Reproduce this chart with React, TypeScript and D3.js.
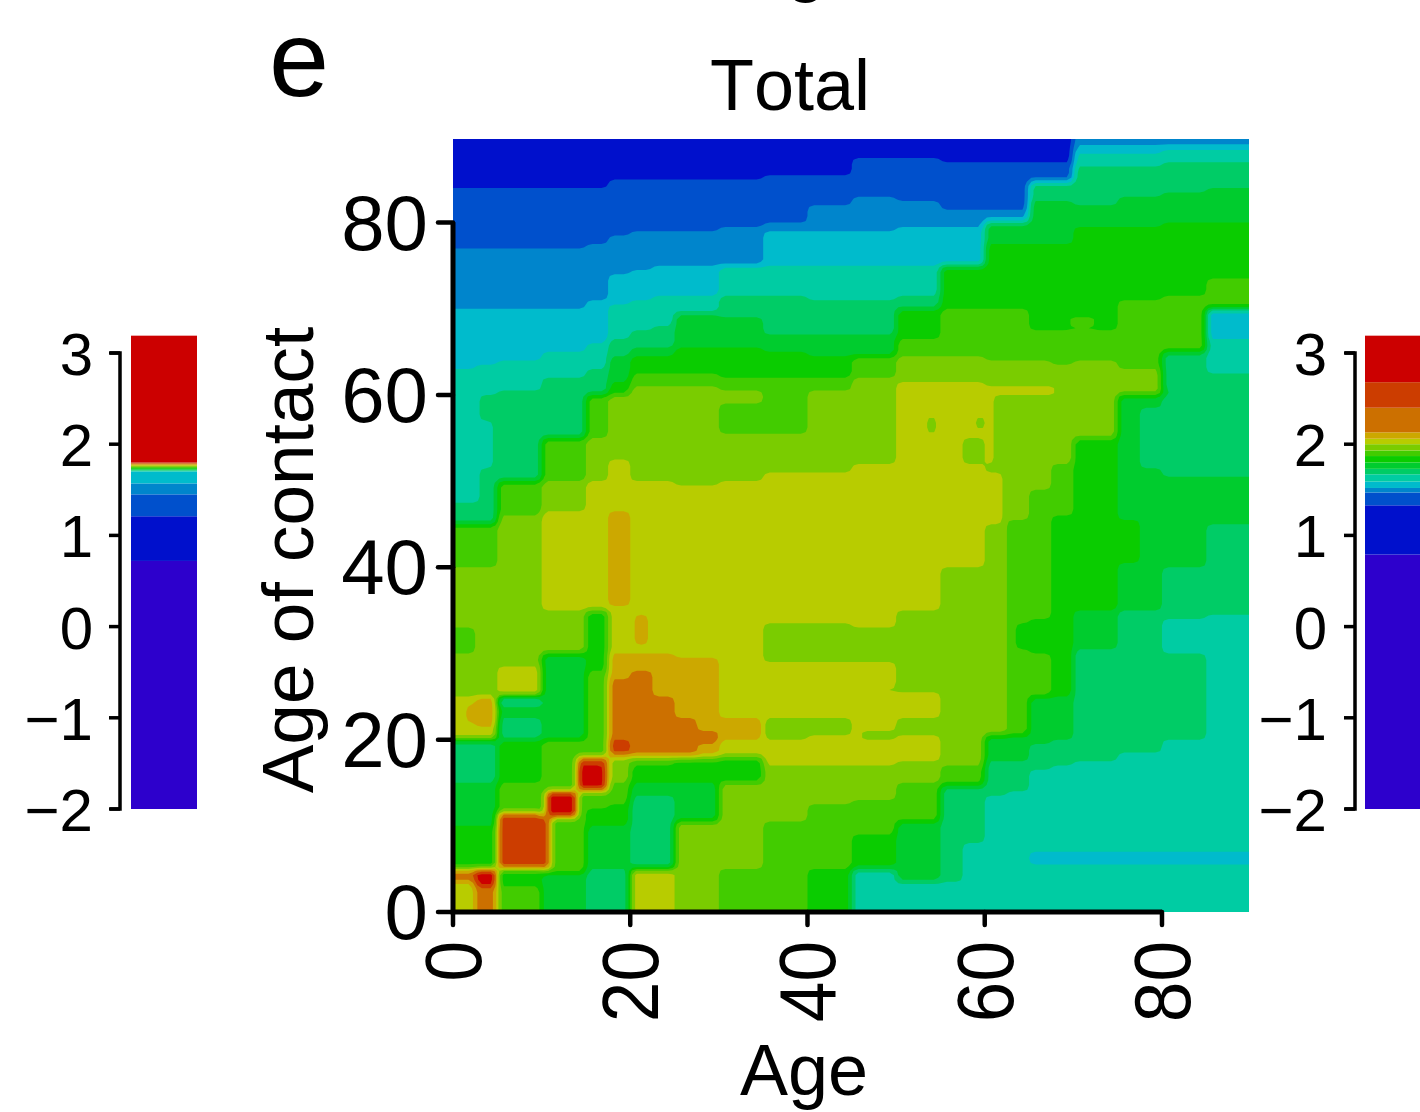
import React, { useMemo } from "react";
import * as d3 from "d3";

// Colour levels of the filled contour plot, lowest to highest
const levelColors = ["#2d00cc","#0010cc","#0050cc","#0085cc","#00bbcc","#00cca3","#00cc66","#00cc2e","#0acc00","#42cc00","#7acc00","#b8cc00","#cca800","#cc7000","#cc3d00","#cc0000"];

// Upper value of each colour band in the two colour keys
const leftKeyUpper = [0.72,1.21,1.45,1.57,1.70,1.71,1.72,1.73,1.74,1.75,1.76,1.77,1.78,1.79,1.80,3.19];
const rightKeyUpper = [0.79,1.33,1.47,1.52,1.59,1.67,1.73,1.80,1.87,1.93,2.0,2.06,2.13,2.40,2.68,3.19];
const keyTicks = [-2,-1,0,1,2,3];
const plotTicks = [0,20,40,60,80];

type Run = [number, number]; // [level, lower age of contact], listed from old contacts down to young
type Column = { from: number; to: number; runs: Run[] };

const age0: Run[] = [[1,84.2],[2,77],[3,70.2],[4,63],[5,47.6],[6,45],[9,40.1],[10,33.1],[9,30.1],[10,25.2],[11,20.2],[6,15.1],[7,10.1],[8,5.1],[13,3.3],[11,0]];
const age3: Run[] = [[1,84.2],[2,77],[3,70.2],[4,63.7],[5,60.2],[6,45],[9,40.1],[10,25.1],[12,21.5],[11,20.2],[6,15.1],[7,10.1],[8,5.2],[15,2.8],[13,0]];
const age5: Run[] = [[1,84.2],[2,77],[3,70.2],[4,64.2],[5,60.5],[6,50],[9,45.9],[10,28.5],[11,25.1],[5,24.1],[7,22.3],[6,20.2],[8,14.8],[9,11.3],[14,4.9],[8,3.1],[9,0]];
const age10: Run[] = [[1,84.2],[2,77],[3,70.2],[4,64.8],[5,61.9],[6,55.1],[9,50.2],[10,46.4],[11,35.1],[10,30],[7,20],[9,4.5],[7,0]];
const age15: Run[] = [[1,84.2],[2,77.3],[3,71.2],[4,65.9],[5,62.8],[6,59.9],[9,54.9],[10,50.2],[11,35.1],[8,27.9],[9,18],[14,14],[9,12.2],[8,9.8],[7,5.1],[6,0]];
const age18: Run[] = [[1,84.8],[2,78.7],[3,73.8],[4,70.3],[5,66.5],[6,64.5],[7,61.6],[8,60.1],[10,52.3],[11,46.7],[12,35.3],[11,30.1],[12,27],[13,19.8],[14,18.5],[13,18],[10,15],[9,12.7],[8,9.8],[7,5.1],[6,0]];
const age20: Run[] = [[1,84.9],[2,79.1],[3,74.7],[4,71.2],[5,67.3],[6,65.3],[7,64.5],[8,62.7],[9,60.9],[10,50.2],[11,29.9],[12,27.9],[13,18],[9,17.1],[8,14.8],[7,13.3],[6,5.1],[11,0]];
const age23: Run[] = [[1,84.9],[2,79.1],[3,74.9],[4,71.4],[5,67.9],[6,65.3],[7,64.5],[8,62.7],[9,60.9],[10,50],[11,29.9],[12,25.2],[13,18],[9,17.1],[8,14.8],[7,13.3],[6,5.1],[11,0]];
const age25: Run[] = [[1,84.9],[2,79.1],[3,75],[4,71.4],[5,69.4],[7,65.3],[8,62.7],[9,60.9],[10,49.7],[11,29.5],[12,22.3],[13,18],[9,17.4],[8,14.8],[7,10.5],[10,0]];
const age28: Run[] = [[1,84.9],[2,79.1],[3,75],[4,71.4],[5,69.4],[7,65.3],[8,62.7],[9,60.9],[10,49.7],[11,29.5],[12,20.8],[13,19.4],[12,18],[9,17.4],[8,14.8],[7,10.5],[10,0]];
const age30: Run[] = [[1,85.1],[2,79.3],[3,75.2],[5,71.7],[6,69.2],[7,65.6],[8,62.1],[9,60.5],[10,59.2],[9,55.5],[10,50],[11,22.6],[12,20],[11,17.9],[8,15.1],[10,5.1],[9,0]];
const age35: Run[] = [[1,85.3],[2,79.9],[3,79.1],[4,75.2],[5,71.7],[6,67.1],[7,64.8],[8,61.9],[9,55.5],[10,51],[11,33.7],[10,29.1],[11,22.3],[10,20.2],[11,17.1],[10,10.5],[9,0]];
const age40: Run[] = [[1,85.3],[2,82],[3,79.1],[4,74.9],[5,71.2],[6,67],[7,64.4],[8,61.9],[9,60.5],[10,51],[11,33.7],[10,29.1],[11,22.3],[10,20.6],[11,17.1],[10,12.7],[9,5.1],[8,0]];
const age45: Run[] = [[1,87.7],[2,82.8],[3,79.1],[4,74.9],[5,71.2],[6,67],[7,64.5],[9,62.1],[10,52.2],[11,33.1],[10,29.1],[11,17.1],[10,13],[9,9.2],[8,5.1],[5,0]];
const age50: Run[] = [[1,87.7],[2,82.4],[3,79.3],[4,75.2],[5,71.5],[6,70],[8,66.5],[9,64.4],[10,61.3],[11,35.1],[10,25.5],[11,22.3],[10,20.3],[11,17.7],[10,14.8],[9,10.5],[7,3.3],[5,0]];
const age55: Run[] = [[1,87.1],[2,81.6],[3,79.5],[4,75.1],[8,69.8],[9,64.5],[10,61.6],[11,39.8],[10,17.1],[9,15],[8,14.4],[6,3.3],[5,0]];
const age58: Run[] = [[1,87.1],[2,81.6],[3,79.5],[4,75.1],[8,69.8],[9,64.5],[10,61.6],[11,54.9],[10,52],[11,39.8],[10,17.1],[9,15],[8,14.4],[6,8],[5,0]];
const age60: Run[] = [[1,87.1],[2,81.6],[3,80.3],[4,79.8],[7,77.3],[8,69.8],[9,64.2],[10,20.3],[7,17.4],[6,13.6],[5,0]];
const age63: Run[] = [[1,87.1],[2,81.6],[3,80.3],[4,79.8],[7,77.3],[8,69.8],[9,64.2],[10,45.6],[9,20.3],[7,17.7],[6,14.2],[5,0]];
const age65: Run[] = [[1,87.1],[2,85.1],[4,84.5],[6,82.4],[7,77.6],[8,67.7],[9,64],[10,49.1],[9,34],[8,29.9],[9,25.2],[7,19.4],[6,16.7],[5,0]];
const age68: Run[] = [[1,87.1],[2,85.1],[4,84.5],[6,82.4],[7,77.6],[8,67.7],[9,63.7],[10,52],[9,46.2],[8,25.2],[7,20],[6,17.1],[5,0]];
const age70: Run[] = [[3,89],[4,88],[5,86.3],[6,82.2],[7,79.3],[8,67.3],[9,64],[10,55.2],[8,35.1],[7,30.5],[6,17.7],[5,0]];
const age75: Run[] = [[3,89],[4,88],[5,86.6],[6,82.8],[7,79.3],[8,71],[9,62.8],[10,60],[7,45.6],[8,40.6],[7,35.1],[6,18.5],[5,0]];
const age78: Run[] = [[3,89],[4,88],[5,86.6],[6,82.8],[7,79.3],[8,71],[9,62.8],[10,60],[7,58.6],[6,51.4],[7,35.1],[6,18.5],[5,0]];
const age80: Run[] = [[3,89],[4,88.4],[5,86.9],[6,83.4],[7,79.9],[8,71.6],[9,65.1],[6,60.5],[7,60],[6,50.5],[7,39.8],[6,34],[5,29.9],[6,20],[5,0]];
const age85: Run[] = [[3,89],[4,88.6],[5,87.1],[6,84],[7,79.9],[8,73.5],[9,70],[4,66.5],[5,62.4],[6,50.6],[7,45],[6,34.5],[5,0]];

const columns: Column[] = [
  { from: 0, to: 2.5, runs: age0 }, { from: 2.5, to: 5, runs: age3 }, { from: 5, to: 10, runs: age5 },
  { from: 10, to: 15, runs: age10 }, { from: 15, to: 17.5, runs: age15 }, { from: 17.5, to: 20, runs: age18 },
  { from: 20, to: 22.5, runs: age20 }, { from: 22.5, to: 25, runs: age23 }, { from: 25, to: 27.5, runs: age25 },
  { from: 27.5, to: 30, runs: age28 }, { from: 30, to: 35, runs: age30 }, { from: 35, to: 40, runs: age35 },
  { from: 40, to: 45, runs: age40 }, { from: 45, to: 50, runs: age45 }, { from: 50, to: 55, runs: age50 },
  { from: 55, to: 57.5, runs: age55 }, { from: 57.5, to: 60, runs: age58 }, { from: 60, to: 62.5, runs: age60 },
  { from: 62.5, to: 65, runs: age63 }, { from: 65, to: 67.5, runs: age65 }, { from: 67.5, to: 70, runs: age68 },
  { from: 70, to: 75, runs: age70 }, { from: 75, to: 77.5, runs: age75 }, { from: 77.5, to: 80, runs: age78 },
  { from: 80, to: 85, runs: age80 }, { from: 85, to: 90, runs: age85 },
];

// Local cells that differ from their column: [age from, age to, contact from, contact to, level]
const localCells: [number, number, number, number, number][] = [
  [1.5,4.5,21.8,24.2,12],[2.5,3.2,55.5,60,5],[2.5,4.4,51.5,57,5],[2.5,3,47.6,52,5],
  [5,11,4.9,11.2,14],[10.7,13.8,11.2,14,15],[13.8,17.6,14,18,14],[14.2,16.8,14.4,16.9,15],
  [20.5,22,31,34.6,12],[46,50,20.2,20.8,10],[46,50,25.5,26.2,10],
  [53.3,54.4,55.5,57.5,10],[59.1,60,56,57.3,10],[63.5,65,30.5,33.5,8],
  [60,61,52,60,11],[60,62,45,51,11],[60,66,60,61,11],[66,68,60.2,60.9,11],
  [69.6,72.7,68,69.1,9],[65,90,5.7,7,4],
];

const STEP = 0.5;
const PAD = 4;
const FONT = "'Liberation Sans', Arial, sans-serif";

function levelAt(age: number, contact: number): number {
  for (let i = localCells.length - 1; i >= 0; i--) {
    const c = localCells[i];
    if (age >= c[0] && age < c[1] && contact >= c[2] && contact < c[3]) return c[4];
  }
  const col = columns.find((c) => age >= c.from && age < c.to) ?? columns[columns.length - 1];
  for (const [lv, lower] of col.runs) if (contact >= lower) return lv;
  return col.runs[col.runs.length - 1][0];
}

const xScale = d3.scaleLinear([0, 90], [453, 1250.6]);
const yScale = d3.scaleLinear([0, 90], [912, 136.4]);
const keyScale = d3.scaleLinear([-2, 3], [809, 353]);

function ColorKey({ upper, barX, barW, axisX, labelX }: { upper: number[]; barX: number; barW: number; axisX: number; labelX: number }) {
  return (
    <g>
      {upper.map((u, i) => {
        const low = i === 0 ? -2 : upper[i - 1];
        return <rect key={i} x={barX} y={keyScale(u)} width={barW} height={keyScale(low) - keyScale(u)} fill={levelColors[i]} />;
      })}
      <path d={`M${axisX - 10},${keyScale(3)}H${axisX}V${keyScale(-2)}H${axisX - 10}`} fill="none" stroke="#000" strokeWidth={3.5} />
      {keyTicks.map((t) => (
        <g key={t}>
          <line x1={axisX - 11} x2={axisX} y1={keyScale(t)} y2={keyScale(t)} stroke="#000" strokeWidth={3.5} />
          <text x={labelX} y={keyScale(t) + 22} textAnchor="end" fontSize={60} fontFamily={FONT}>{t < 0 ? "\u2212" + Math.abs(t) : t}</text>
        </g>
      ))}
    </g>
  );
}

export default function App() {
  const layers = useMemo(() => {
    const n = Math.round(90 / STEP) + PAD * 2;
    const raw = new Float64Array(n * n);
    const clampAge = (v: number) => Math.min(89.99, Math.max(0, v));
    for (let j = 0; j < n; j++) {
      for (let i = 0; i < n; i++) {
        raw[j * n + i] = levelAt(clampAge((i + 0.5 - PAD) * STEP), clampAge((j + 0.5 - PAD) * STEP));
      }
    }
    const values = new Float64Array(n * n);
    for (let j = 0; j < n; j++) {
      for (let i = 0; i < n; i++) {
        let s = 0, w = 0;
        for (let dj = -1; dj <= 1; dj++) for (let di = -1; di <= 1; di++) {
          const ii = Math.min(n - 1, Math.max(0, i + di));
          const jj = Math.min(n - 1, Math.max(0, j + dj));
          const k = (di === 0 ? 2 : 1) * (dj === 0 ? 2 : 1);
          s += raw[jj * n + ii] * k; w += k;
        }
        values[j * n + i] = s / w;
      }
    }
    const thresholds = levelColors.map((_, k) => k - 0.5).slice(1);
    const contours = d3.contours().size([n, n]).thresholds(thresholds)(Array.from(values));
    const path = d3.geoPath(d3.geoTransform({
      point(x: number, y: number) {
        (this as any).stream.point(xScale((x - PAD) * STEP), yScale((y - PAD) * STEP));
      },
    }));
    return contours.map((c, i) => ({ d: path(c as any) ?? "", fill: levelColors[i + 1] }));
  }, []);

  return (
    <svg width={1420} height={1112} viewBox="0 0 1420 1112" style={{ position: "absolute", left: 0, top: 0, display: "block", background: "#fff", fontKerning: "none" }}>
      <defs>
        <clipPath id="plot"><rect x={453} y={139} width={796} height={773} /></clipPath>
      </defs>
      <text x={786} y={-12} fontSize={72} fontFamily={FONT}>g</text>
      <text x={269} y={96} fontSize={108} fontFamily={FONT}>e</text>
      <text x={790} y={110} textAnchor="middle" fontSize={72} fontFamily={FONT}>Total</text>

      <ColorKey upper={leftKeyUpper} barX={131} barW={66} axisX={120} labelX={93} />
      <ColorKey upper={rightKeyUpper} barX={1365} barW={55} axisX={1355} labelX={1327} />

      <g clipPath="url(#plot)">
        <rect x={453} y={139} width={796} height={773} fill={levelColors[1]} />
        {layers.map((l, i) => <path key={i} d={l.d} fill={l.fill} />)}
      </g>

      <path d={`M${xScale(0)},${yScale(80)}V${yScale(0)}H${xScale(80)}`} fill="none" stroke="#000" strokeWidth={5} />
      {plotTicks.map((t) => (
        <g key={t}>
          <line x1={438} x2={453} y1={yScale(t)} y2={yScale(t)} stroke="#000" strokeWidth={4.5} strokeLinecap="round" />
          <text x={428} y={yScale(t) + 27} textAnchor="end" fontSize={78} fontFamily={FONT}>{t}</text>
          <line x1={xScale(t)} x2={xScale(t)} y1={912} y2={925} stroke="#000" strokeWidth={4.5} strokeLinecap="round" />
          <text transform={`translate(${xScale(t) + 28},941) rotate(-90) scale(0.96,1.04)`} textAnchor="end" fontSize={76} fontFamily={FONT}>{t}</text>
        </g>
      ))}
      <text x={804} y={1095} textAnchor="middle" fontSize={72} fontFamily={FONT}>Age</text>
      <text transform="translate(313,560) rotate(-90)" textAnchor="middle" fontSize={73} fontFamily={FONT}>Age of contact</text>
    </svg>
  );
}
